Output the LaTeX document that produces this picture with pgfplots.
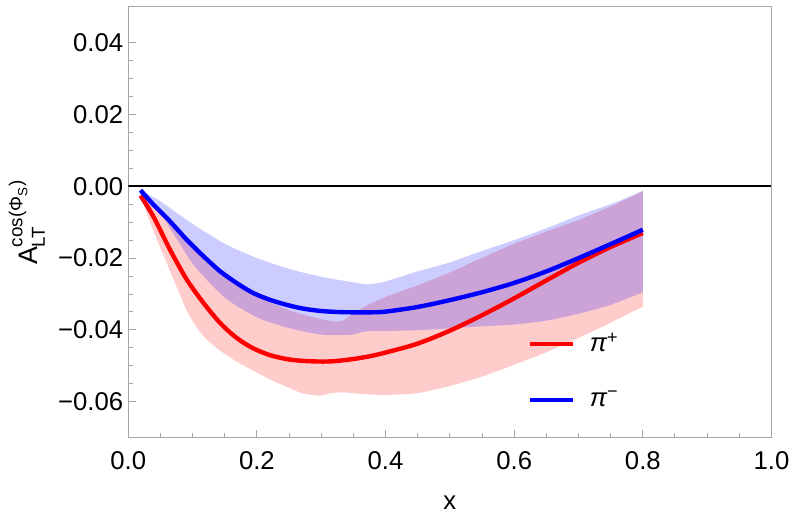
\documentclass[border=0pt]{standalone}
\usepackage{amsmath}
\usepackage{fontspec}
\setmainfont{Liberation Sans}
\usepackage{pgfplots}
\usepackage{pgfplotstable}
\pgfplotsset{compat=1.18}
\usepgfplotslibrary{fillbetween}

% central curves
\pgfplotstableread{
x y
0.019 -0.0026
0.039 -0.0084
0.065 -0.0177
0.091 -0.0260
0.117 -0.0325
0.143 -0.0381
0.169 -0.0423
0.194 -0.0451
0.220 -0.0470
0.246 -0.0481
0.270 -0.0486
0.298 -0.0488
0.320 -0.0487
0.350 -0.0481
0.376 -0.0473
0.400 -0.0463
0.450 -0.0438
0.500 -0.0402
0.550 -0.0359
0.600 -0.0312
0.650 -0.0262
0.700 -0.0213
0.750 -0.0169
0.800 -0.0130
}\redline
\pgfplotstableread{
x y
0.019 -0.0011
0.039 -0.0051
0.065 -0.0098
0.091 -0.0149
0.117 -0.0195
0.143 -0.0237
0.169 -0.0270
0.194 -0.0297
0.220 -0.0316
0.246 -0.0330
0.270 -0.0340
0.298 -0.0347
0.325 -0.0350
0.350 -0.0351
0.375 -0.0351
0.400 -0.0349
0.450 -0.0336
0.500 -0.0317
0.550 -0.0295
0.600 -0.0269
0.650 -0.0237
0.700 -0.0200
0.750 -0.0161
0.800 -0.0121
}\blueline
% uncertainty bands
\pgfplotstableread{
x y
0.019 -0.0026
0.05 -0.0070
0.1 -0.0160
0.15 -0.0245
0.2 -0.0305
0.25 -0.0345
0.3 -0.0370
0.33 -0.0376
0.36 -0.0342
0.4 -0.0308
0.45 -0.0276
0.5 -0.0240
0.55 -0.0199
0.6 -0.0160
0.65 -0.0126
0.7 -0.0094
0.75 -0.0056
0.8 -0.0014
}\redup
\pgfplotstableread{
x y
0.019 -0.0028
0.04 -0.0128
0.065 -0.0236
0.09 -0.0342
0.105 -0.0390
0.117 -0.0417
0.13 -0.0440
0.143 -0.0458
0.17 -0.0490
0.194 -0.0513
0.22 -0.0538
0.246 -0.0558
0.27 -0.0576
0.298 -0.0583
0.315 -0.0576
0.335 -0.0574
0.36 -0.0578
0.4 -0.0581
0.45 -0.0576
0.5 -0.0556
0.55 -0.0530
0.6 -0.0497
0.65 -0.0462
0.7 -0.0422
0.75 -0.0380
0.8 -0.0335
}\redlow
\pgfplotstableread{
x y
0.019 -0.0011
0.05 -0.0042
0.1 -0.0105
0.15 -0.0160
0.2 -0.0200
0.25 -0.0230
0.3 -0.0252
0.345 -0.0266
0.371 -0.0273
0.4 -0.0265
0.448 -0.0238
0.5 -0.0212
0.547 -0.0182
0.6 -0.0150
0.656 -0.0113
0.702 -0.0080
0.759 -0.0044
0.8 -0.0012
}\blueup
\pgfplotstableread{
x y
0.019 -0.0012
0.05 -0.0075
0.1 -0.0215
0.15 -0.0310
0.2 -0.0365
0.25 -0.0395
0.3 -0.0413
0.345 -0.0414
0.371 -0.0404
0.45 -0.0401
0.55 -0.0390
0.6 -0.0385
0.65 -0.0374
0.7 -0.0355
0.75 -0.0330
0.8 -0.0295
}\bluelow

\begin{document}
\begin{tikzpicture}
\begin{axis}[
  scale only axis,
  width=321.6pt, height=215.5pt,
  xmin=0, xmax=1, ymin=-0.07, ymax=0.05,
  scaled y ticks=false, scaled x ticks=false,
  font=\fontsize{12.85}{15}\selectfont,
  axis line style={gray!70, line width=0.5pt},
  tick style={gray!70, line width=0.5pt},
  tick align=inside,
  xtick pos=bottom, ytick pos=left,
  major tick length=4pt, minor tick length=2.4pt,
  xtick={0,0.2,0.4,0.6,0.8,1.0},
  xticklabels={0.0,0.2,0.4,0.6,0.8,1.0},
  ytick={-0.06,-0.04,-0.02,0,0.02,0.04},
  yticklabels={−0.06,−0.04,−0.02,0.00,0.02,0.04},
  minor x tick num=3, minor y tick num=3,
  xticklabel style={yshift=-3.2pt},
  yticklabel style={xshift=1pt},
  xlabel={x},
  xlabel style={at={(axis description cs:0.5,-0.1517)}, anchor=center},
  ylabel={A$^{\text{cos(Φ}_{\text{S}}\text{)}}_{\text{LT}}$},
  ylabel style={at={(axis description cs:-0.1577,0.5)}, anchor=center,
    font=\fontsize{13.4}{15}\selectfont},
  legend cell align=left,
  legend image code/.code={\draw[#1] (0pt,0pt) -- (21.5pt,0pt);},
  legend style={draw=none, fill=none, at={(axis cs:0.6200,-0.0514)}, anchor=west,
    inner sep=0pt, row sep=14pt, column sep=5.5pt,
    font=\fontsize{12.85}{15}\selectfont},
]
% zero line
\addplot[black, line width=1pt, forget plot] coordinates {(0,0) (1,0)};

% pi+ band and curve
\addplot[draw=none, name path=ru, smooth, tension=0.4, forget plot] table {\redup};
\addplot[draw=none, name path=rl, smooth, tension=0.4, forget plot] table {\redlow};
\addplot[fill=red, fill opacity=0.2, draw=none, forget plot] fill between[of=ru and rl];
\addplot[red, line width=2.2pt, smooth] table {\redline};
\addlegendentry{{\itshape π}\textsuperscript{+}}

% pi- band and curve
\addplot[draw=none, name path=bu, smooth, tension=0.4, forget plot] table {\blueup};
\addplot[draw=none, name path=bl, smooth, tension=0.4, forget plot] table {\bluelow};
\addplot[fill=blue, fill opacity=0.2, draw=none, forget plot] fill between[of=bu and bl];
\addplot[blue, line width=2.2pt, smooth] table {\blueline};
\addlegendentry{{\itshape π}\textsuperscript{−}}
\end{axis}
% page extent around the axis box
\path (-64.15pt,-43.65pt) rectangle (333.85pt,218.85pt);
\end{tikzpicture}
\end{document}
